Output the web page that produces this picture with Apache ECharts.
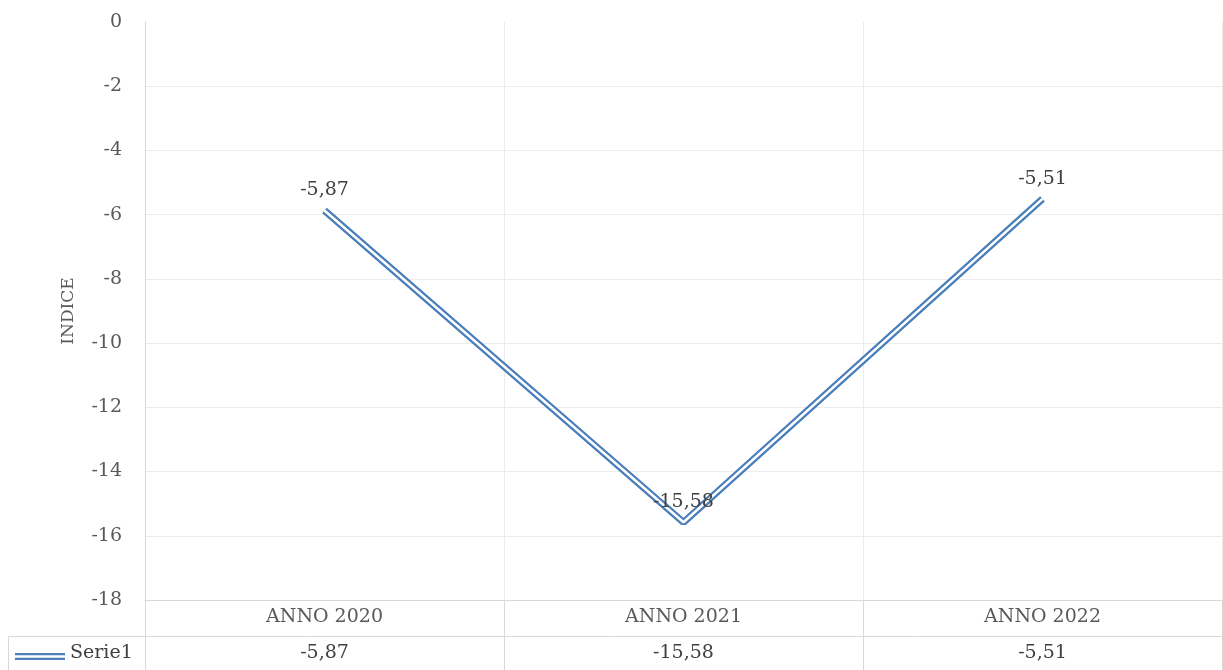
<!DOCTYPE html>
<html>
<head>
<meta charset="utf-8">
<script src="https://cdn.jsdelivr.net/npm/echarts@6/dist/echarts.min.js"></script>
<style>
  html, body { margin: 0; padding: 0; background: #fff; }
  #chart { width: 1223px; height: 670px; }
</style>
</head>
<body>
<div id="chart"></div>
<script>
// dati del grafico
var categories = ['ANNO 2020', 'ANNO 2021', 'ANNO 2022'];
var serie1 = [-5.87, -15.58, -5.51];
var seriesName = 'Serie1';
var yTitle = 'INDICE';

var fmt = function (v) { return v.toFixed(2).replace('.', ','); };
var font = 'DejaVu Serif';
var grey = '#d9d9d9';
var blue = '#4a7ebb';

var chart = echarts.init(document.getElementById('chart'));
chart.setOption({
  backgroundColor: '#fff',
  animation: false,
  textStyle: { fontFamily: font },
  grid: { left: 145, right: 1, top: 22, bottom: 70, containLabel: false },
  xAxis: [
    {
      type: 'category',
      position: 'bottom',
      data: categories,
      boundaryGap: true,
      axisLine: { show: true, onZero: false, lineStyle: { color: grey, width: 1 } },
      axisTick: { show: true, inside: false, length: 70, lineStyle: { color: grey } },
      splitLine: { show: true, lineStyle: { color: '#ececec' } },
      axisLabel: { fontSize: 19, color: '#595959', margin: 8, fontFamily: font }
    },
    {
      // riga della tabella dati
      type: 'category',
      position: 'bottom',
      data: serie1.map(fmt),
      offset: 36,
      axisLine: { show: false, onZero: false },
      axisTick: { show: false },
      splitLine: { show: false },
      axisLabel: { fontSize: 19, color: '#404040', margin: 8, fontFamily: font }
    }
  ],
  yAxis: {
    type: 'value',
    min: -18,
    max: 0,
    interval: 2,
    name: yTitle,
    nameLocation: 'middle',
    nameGap: 68,
    nameRotate: 90,
    nameTextStyle: { fontSize: 17, color: '#595959', fontFamily: font },
    axisLine: { show: true, lineStyle: { color: grey } },
    axisTick: { show: false },
    splitLine: { show: true, showMaxLine: false, lineStyle: { color: '#ececec' } },
    axisLabel: { fontSize: 19, color: '#595959', margin: 23, fontFamily: font }
  },
  series: [
    {
      name: seriesName,
      type: 'line',
      xAxisIndex: 0,
      data: serie1,
      symbol: 'none',
      lineStyle: { color: blue, width: 7 },
      silent: true,
      z: 2
    },
    {
      // linea bianca interna (effetto doppia linea) + etichette
      name: seriesName + '_inner',
      type: 'line',
      xAxisIndex: 0,
      data: serie1,
      symbol: 'circle',
      symbolSize: 1,
      showSymbol: true,
      itemStyle: { color: '#fff' },
      lineStyle: { color: '#fff', width: 2.5 },
      label: {
        show: true,
        position: 'top',
        distance: 10,
        fontSize: 19,
        color: '#404040',
        fontFamily: font,
        formatter: function (p) { return fmt(p.value); }
      },
      silent: true,
      z: 3
    }
  ],
  graphic: [
    { type: 'line', shape: { x1: 8, y1: 636.5, x2: 1223, y2: 636.5 }, style: { stroke: grey, lineWidth: 1 } },
    { type: 'line', shape: { x1: 8.5, y1: 636, x2: 8.5, y2: 670 }, style: { stroke: grey, lineWidth: 1 } },
    { type: 'line', shape: { x1: 15, y1: 656.5, x2: 65, y2: 656.5 }, style: { stroke: blue, lineWidth: 7 } },
    { type: 'line', shape: { x1: 15, y1: 656.5, x2: 65, y2: 656.5 }, style: { stroke: '#fff', lineWidth: 2.5 } },
    {
      type: 'text', left: 70, top: 644,
      style: { text: seriesName, fontSize: 19, fill: '#404040', fontFamily: font }
    }
  ]
});
</script>
</body>
</html>
